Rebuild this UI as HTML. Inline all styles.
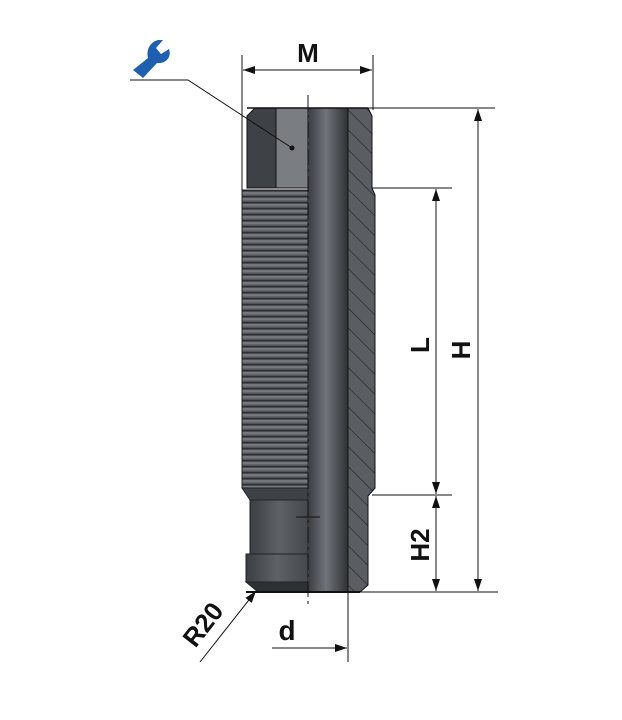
<!DOCTYPE html><html><head><style>body{margin:0;background:#fff}svg{display:block}text{font-family:"Liberation Sans",sans-serif;font-weight:bold;fill:#111}</style></head><body>
<svg width="622" height="720" viewBox="0 0 622 720" xmlns="http://www.w3.org/2000/svg">
<defs>
<linearGradient id="bore" x1="0" x2="1"><stop offset="0" stop-color="#3a3d41"/><stop offset="0.45" stop-color="#70747a"/><stop offset="1" stop-color="#2e3134"/></linearGradient>
<linearGradient id="body" x1="0" x2="1"><stop offset="0" stop-color="#3b3e42"/><stop offset="0.5" stop-color="#5e6267"/><stop offset="1" stop-color="#45484c"/></linearGradient>
<pattern id="th" width="66" height="6" patternUnits="userSpaceOnUse"><rect width="66" height="6" fill="#505357"/><rect y="0" width="66" height="2.5" fill="#74787d"/><rect y="4" width="66" height="1.2" fill="#2c2f32"/></pattern>
<pattern id="hatch" width="14" height="14" patternUnits="userSpaceOnUse" patternTransform="rotate(-45)"><rect width="14" height="14" fill="#5a5e62"/><line x1="0" y1="0" x2="0" y2="14" stroke="#222" stroke-width="1.2"/></pattern>
<marker id="a" markerWidth="12" markerHeight="8" refX="12" refY="4" orient="auto" markerUnits="userSpaceOnUse"><path d="M0,0L12,4L0,8z" fill="#111"/></marker>
</defs>
<polygon points="247,116 255,108 276,108 276,188 247,188" fill="#3e4145" stroke="#111"/>
<polygon points="276,108 308,108 308,188 276,188" fill="#7a7d81" stroke="#111"/>
<rect x="242" y="190" width="66" height="298" fill="url(#th)" stroke="#222"/>
<polygon points="242,488 308,488 308,500 250,500" fill="#3e4145" stroke="#222"/>
<rect x="250" y="500" width="58" height="54" fill="url(#body)" stroke="#222"/>
<rect x="246" y="554" width="62" height="28" fill="url(#body)" stroke="#222"/>
<polygon points="246,582 308,582 308,592 258,592" fill="#2e3134" stroke="#222"/>
<rect x="308" y="108" width="40" height="484" fill="url(#bore)"/>
<polygon points="348,108 368,108 372,116 372,188 375,195 375,488 368,496 368,585 360,592 348,592" fill="url(#hatch)" stroke="#111"/>
<line x1="247" y1="108" x2="368" y2="108" stroke="#111" stroke-width="1.5"/>
<line x1="246" y1="592" x2="360" y2="592" stroke="#111" stroke-width="2"/>
<line x1="308" y1="95" x2="308" y2="605" stroke="#111" stroke-dasharray="16,4,3,4"/>
<line x1="296" y1="517" x2="320" y2="517" stroke="#111"/>
<line x1="242" y1="55" x2="242" y2="190" stroke="#111"/>
<line x1="373" y1="55" x2="373" y2="110" stroke="#111"/>
<line x1="260" y1="70" x2="243" y2="70" stroke="#111" marker-end="url(#a)"/>
<line x1="250" y1="70" x2="372" y2="70" stroke="#111" marker-end="url(#a)"/>
<text x="308" y="62" font-size="26" text-anchor="middle">M</text>
<line x1="355" y1="108" x2="495" y2="108" stroke="#111"/>
<line x1="350" y1="592" x2="498" y2="592" stroke="#111"/>
<line x1="478" y1="300" x2="478" y2="109" stroke="#111" marker-end="url(#a)"/>
<line x1="478" y1="300" x2="478" y2="591" stroke="#111" marker-end="url(#a)"/>
<text transform="translate(470,350) rotate(-90)" font-size="26" text-anchor="middle">H</text>
<line x1="372" y1="188" x2="452" y2="188" stroke="#111"/>
<line x1="372" y1="495" x2="452" y2="495" stroke="#111"/>
<line x1="436" y1="340" x2="436" y2="189" stroke="#111" marker-end="url(#a)"/>
<line x1="436" y1="340" x2="436" y2="494" stroke="#111" marker-end="url(#a)"/>
<text transform="translate(429,345) rotate(-90)" font-size="26" text-anchor="middle">L</text>
<line x1="436" y1="540" x2="436" y2="496" stroke="#111" marker-end="url(#a)"/>
<line x1="436" y1="540" x2="436" y2="591" stroke="#111" marker-end="url(#a)"/>
<text transform="translate(429,545) rotate(-90)" font-size="26" text-anchor="middle">H2</text>
<line x1="348" y1="592" x2="348" y2="662" stroke="#111"/>
<line x1="272" y1="648" x2="347" y2="648" stroke="#111" marker-end="url(#a)"/>
<text x="287" y="640" font-size="28" text-anchor="middle">d</text>
<line x1="200" y1="662" x2="256" y2="591" stroke="#111" marker-end="url(#a)"/>
<text transform="translate(210,630) rotate(-52)" font-size="26" text-anchor="middle">R20</text>
<polyline points="130,80 188,80 292,148" fill="none" stroke="#111"/>
<circle cx="292" cy="148" r="2.5" fill="#111"/>
<path d="M133,70 L148,58 C146,50 150,42 158,40 L163,40 L156,48 L161,54 L169,49 C172,58 165,64 157,63 L143,78 Z" fill="#1f5fb0"/>
</svg></body></html>
